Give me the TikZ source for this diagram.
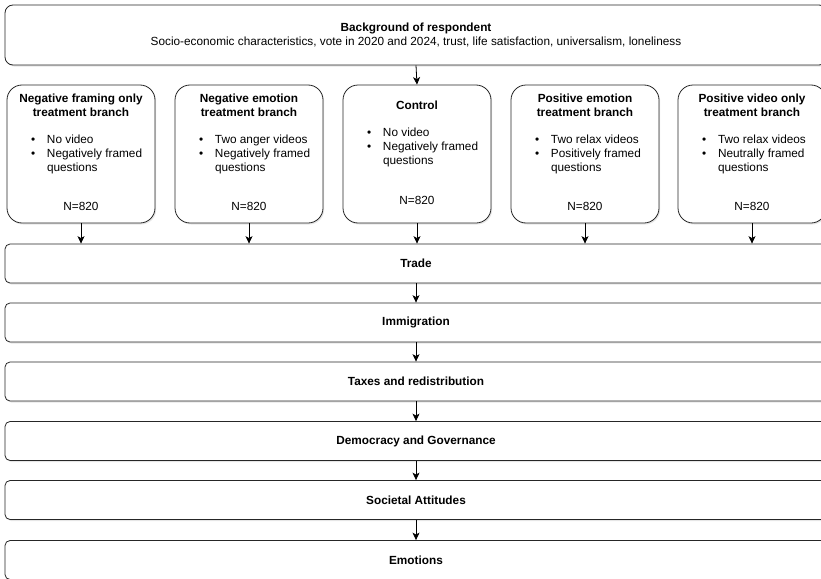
\documentclass[tikz,border=0pt]{standalone}
\usepackage{fontspec}
\setmainfont{Liberation Sans}
\usetikzlibrary{arrows.meta,shadows}
\tikzset{
  box/.style={draw=black!85, fill=white, line width=0.8pt,
    drop shadow={shadow xshift=1.2pt, shadow yshift=-1.5pt, opacity=0.2},
    font=\fontsize{11.8}{14}\selectfont, inner sep=0pt},
  stage/.style={box, rounded corners=5pt, minimum width=822pt, minimum height=39pt,
    font=\bfseries\fontsize{11.8}{14}\selectfont},
  branch/.style={box, rounded corners=15pt, minimum width=148pt, minimum height=138pt},
  link/.style={-{Stealth[length=7.5pt,width=7pt,inset=2pt]}, line width=0.8pt}
}
\newcommand{\bitem}[1]{\makebox[100pt][l]{\makebox[16pt][l]{\textbullet}#1}}
\newcommand{\bcont}[1]{\makebox[100pt][l]{\hspace{16pt}#1}}
\begin{document}
\begin{tikzpicture}[x=1pt,y=-1pt]
\useasboundingbox (0,0) rectangle (821,578);
\node[box, rounded corners=8pt, minimum width=822pt, minimum height=60pt, align=center] (bg) at (416,35)
  {\textbf{Background of respondent}\\Socio-economic characteristics, vote in 2020 and 2024, trust, life satisfaction, universalism, loneliness};
\node[branch] (negframe) at (81,154) {\begin{tabular}{@{}c@{}}
  \textbf{Negative framing only}\\ \textbf{treatment branch}\\[13pt]
  \bitem{No video}\\ \bitem{Negatively framed}\\ \bcont{questions}\\[25pt] N=820\end{tabular}};
\node[branch] (negemo) at (249,154) {\begin{tabular}{@{}c@{}}
  \textbf{Negative emotion}\\ \textbf{treatment branch}\\[13pt]
  \bitem{Two anger videos}\\ \bitem{Negatively framed}\\ \bcont{questions}\\[25pt] N=820\end{tabular}};
\node[branch] (control) at (417,154) {\begin{tabular}{@{}c@{}}
  \textbf{Control}\\[13pt]
  \bitem{No video}\\ \bitem{Negatively framed}\\ \bcont{questions}\\[26pt] N=820\end{tabular}};
\node[branch] (posemo) at (585,154) {\begin{tabular}{@{}c@{}}
  \textbf{Positive emotion}\\ \textbf{treatment branch}\\[13pt]
  \bitem{Two relax videos}\\ \bitem{Positively framed}\\ \bcont{questions}\\[25pt] N=820\end{tabular}};
\node[branch] (posvid) at (752,154) {\begin{tabular}{@{}c@{}}
  \textbf{Positive video only}\\ \textbf{treatment branch}\\[13pt]
  \bitem{Two relax videos}\\ \bitem{Neutrally framed}\\ \bcont{questions}\\[25pt] N=820\end{tabular}};
\node[stage] (trade) at (416,263.5) {Trade};
\node[stage] (immig) at (416,322.5) {Immigration};
\node[stage] (taxes) at (416,381.5) {Taxes and redistribution};
\node[stage] (democ) at (416,441) {Democracy and Governance};
\node[stage] (societ) at (416,500) {Societal Attitudes};
\node[stage] (emotion) at (416,560) {Emotions};
\draw[link] (bg.south) -- (control.north);
\draw[link] (negframe.south) -- (negframe.south |- trade.north);
\draw[link] (negemo.south) -- (negemo.south |- trade.north);
\draw[link] (control.south) -- (control.south |- trade.north);
\draw[link] (posemo.south) -- (posemo.south |- trade.north);
\draw[link] (posvid.south) -- (posvid.south |- trade.north);
\draw[link] (trade.south) -- (immig.north);
\draw[link] (immig.south) -- (taxes.north);
\draw[link] (taxes.south) -- (democ.north);
\draw[link] (democ.south) -- (societ.north);
\draw[link] (societ.south) -- (emotion.north);
\end{tikzpicture}
\end{document}
